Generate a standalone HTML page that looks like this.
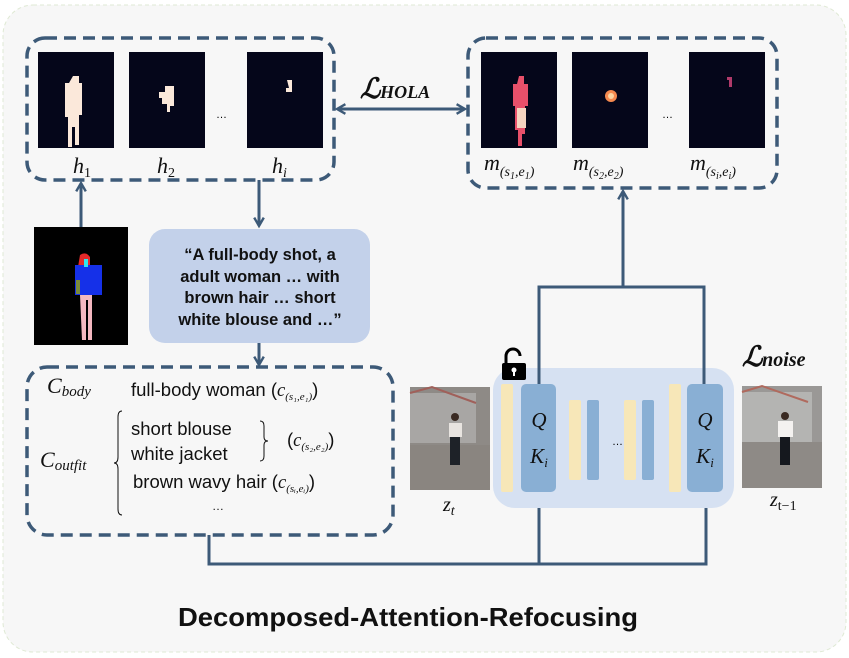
<!DOCTYPE html>
<html><head><meta charset="utf-8"><style>html,body{margin:0;padding:0;background:#fff}svg{display:block}</style></head>
<body>
<svg width="849" height="658" viewBox="0 0 849 658" xmlns="http://www.w3.org/2000/svg">
<defs>
<marker id="ah" viewBox="0 0 10 10" refX="8" refY="5" markerWidth="4" markerHeight="4" orient="auto-start-reverse"><path d="M1,1 L8,5 L1,9" fill="none" stroke="#3d5a78" stroke-width="2"/></marker>
</defs>
<rect x="3" y="5" width="843" height="647" rx="30" fill="#f7f7f7" stroke="#dfe9d4" stroke-dasharray="4 3"/>
<g fill="none" stroke="#3d5a78" stroke-width="3.5" stroke-dasharray="12 7">
<rect x="27" y="38" width="307" height="142" rx="18"/>
<rect x="468" y="38" width="309" height="150" rx="18"/>
<rect x="27" y="367" width="366" height="168" rx="20"/>
</g>
<g>
<rect x="38" y="52" width="76" height="96" fill="#05061a"/>
<path d="M73,76 h6 v7 h3 v32 h-3 v30 h-4 v-18 h-3 v20 h-4 v-30 h-3 v-34 h4z" fill="#fbe8da"/>
<rect x="129" y="52" width="76" height="96" fill="#05061a"/>
<path d="M165,86 h9 v20 h-4 v6 h-3 v-8 h-5 v-6 h-3 v-6 h6z" fill="#fbe8da"/>
<rect x="247" y="52" width="76" height="96" fill="#05061a"/>
<path d="M287,80 h5 v12 h-6 v-4 h3z" fill="#fbe8da"/>
<text x="216" y="118" font-family="Liberation Sans" font-size="11">…</text>
</g>
<g>
<rect x="481" y="52" width="76" height="96" fill="#05061a"/>
<path d="M519,76 h5 v8 h4 v22 h-3 v28 h-3 v12 h-4 v-16 h-3 v-24 h-2 v-22 h4z" fill="#e8506a"/>
<path d="M517,108 h9 v20 h-9z" fill="#f6d4c0"/>
<rect x="572" y="52" width="76" height="96" fill="#05061a"/>
<circle cx="611" cy="96" r="6" fill="#f5894f"/>
<circle cx="611" cy="96" r="3" fill="#fbd3a0"/>
<rect x="689" y="52" width="76" height="96" fill="#05061a"/>
<path d="M727,77 h5 v10 h-3 v-7 h-2z" fill="#b03a6a"/>
<text x="662" y="118" font-family="Liberation Sans" font-size="11">…</text>
</g>
<g font-family="Liberation Serif" font-style="italic" font-size="22" fill="#111">
<text x="73" y="173">h<tspan font-size="14" font-style="normal" dy="4">1</tspan></text>
<text x="157" y="173">h<tspan font-size="14" font-style="normal" dy="4">2</tspan></text>
<text x="272" y="173">h<tspan font-size="14" dy="4">i</tspan></text>
<text x="484" y="170">m<tspan font-size="14" dy="6">(s</tspan><tspan font-size="10" dy="3">1</tspan><tspan font-size="14" dy="-3">,e</tspan><tspan font-size="10" dy="3">1</tspan><tspan font-size="14" dy="-3">)</tspan></text>
<text x="573" y="170">m<tspan font-size="14" dy="6">(s</tspan><tspan font-size="10" dy="3">2</tspan><tspan font-size="14" dy="-3">,e</tspan><tspan font-size="10" dy="3">2</tspan><tspan font-size="14" dy="-3">)</tspan></text>
<text x="690" y="170">m<tspan font-size="14" dy="6">(s</tspan><tspan font-size="10" dy="3">i</tspan><tspan font-size="14" dy="-3">,e</tspan><tspan font-size="10" dy="3">i</tspan><tspan font-size="14" dy="-3">)</tspan></text>
</g>
<text x="360" y="98" font-family="Liberation Serif" font-style="italic" font-weight="bold" font-size="28" fill="#111">ℒ<tspan font-size="18">HOLA</tspan></text>
<g stroke="#3d5a78" stroke-width="3" fill="none">
<line x1="337" y1="109" x2="465" y2="109" marker-start="url(#ah)" marker-end="url(#ah)"/>
<line x1="81" y1="227" x2="81" y2="183" marker-end="url(#ah)"/>
<line x1="259" y1="180" x2="259" y2="226" marker-end="url(#ah)"/>
<line x1="259" y1="343" x2="259" y2="365" marker-end="url(#ah)"/>
<polyline points="209,535 209,564 706,564 706,494" marker-end="url(#ah)"/>
<line x1="539" y1="564" x2="539" y2="494" marker-end="url(#ah)"/>
</g>
<rect x="34" y="227" width="94" height="118" fill="#000"/>
<path d="M80,255 q6,-4 10,2 v10 h-12z" fill="#e52a2a"/>
<path d="M75,265 h27 v30 h-27z" fill="#1530e8"/>
<rect x="84" y="259" width="4" height="8" fill="#2fe6f0"/>
<path d="M80,295 h12 v45 h-4 v-40 h-2 v40 h-4z" fill="#f4b8c0"/>
<rect x="76" y="280" width="4" height="14" fill="#7a8a3a"/>
<rect x="149" y="229" width="221" height="114" rx="16" fill="#c3d1ea"/>
<g font-family="Liberation Sans" font-weight="bold" font-size="16.5" fill="#111" text-anchor="middle">
<text x="260" y="260">“A full-body shot, a</text>
<text x="260" y="282">adult woman … with</text>
<text x="260" y="303">brown hair … short</text>
<text x="260" y="325">white blouse and …”</text>
</g>
<g font-family="Liberation Sans" font-size="18.5" fill="#111">
<text x="131" y="396">full-body woman (<tspan font-family="Liberation Serif" font-style="italic">c</tspan><tspan font-family="Liberation Serif" font-style="italic" font-size="11" dy="4">(s₁,e₁)</tspan><tspan dy="-4">)</tspan></text>
<text x="131" y="435">short blouse</text>
<text x="131" y="460">white jacket</text>
<text x="287" y="446">(<tspan font-family="Liberation Serif" font-style="italic">c</tspan><tspan font-family="Liberation Serif" font-style="italic" font-size="11" dy="4">(s₂,e₂)</tspan><tspan dy="-4">)</tspan></text>
<text x="133" y="488">brown wavy hair (<tspan font-family="Liberation Serif" font-style="italic">c</tspan><tspan font-family="Liberation Serif" font-style="italic" font-size="11" dy="4">(sᵢ,eᵢ)</tspan><tspan dy="-4">)</tspan></text>
<text x="212" y="510" font-size="12">…</text>
</g>
<g font-family="Liberation Serif" font-style="italic" font-size="22" fill="#111">
<text x="47" y="393">C<tspan font-size="15" dy="3">body</tspan></text>
<text x="40" y="467">C<tspan font-size="15" dy="3">outfit</tspan></text>
</g>
<g fill="none" stroke="#111" stroke-width="1">
<path d="M122,411 q-4,0 -4,6 v40 q0,6 -4,6 q4,0 4,6 v40 q0,6 4,6"/>
<path d="M260,421 q4,0 4,5 v11 q0,4 4,4 q-4,0 -4,4 v11 q0,5 -4,5"/>
</g>
<rect x="493" y="368" width="241" height="140" rx="22" fill="#d6e1f2"/>
<g stroke="#3d5a78" stroke-width="3" fill="none">
<polyline points="539,384 539,287 704,287 704,384"/>
<line x1="623" y1="287" x2="623" y2="191" marker-end="url(#ah)"/>
</g>
<g fill="#f7e7b8">
<rect x="501" y="384" width="12" height="108" rx="2"/>
<rect x="569" y="400" width="12" height="80" rx="2"/>
<rect x="624" y="400" width="12" height="80" rx="2"/>
<rect x="669" y="384" width="12" height="108" rx="2"/>
</g>
<g fill="#89afd4">
<rect x="521" y="384" width="35" height="108" rx="5"/>
<rect x="587" y="400" width="12" height="80" rx="2"/>
<rect x="642" y="400" width="12" height="80" rx="2"/>
<rect x="687" y="384" width="36" height="108" rx="5"/>
</g>
<g font-family="Liberation Serif" font-style="italic" font-size="21" fill="#111" text-anchor="middle">
<text x="539" y="427">Q</text><text x="539" y="463">K<tspan font-size="13" dy="4">i</tspan></text>
<text x="705" y="427">Q</text><text x="705" y="463">K<tspan font-size="13" dy="4">i</tspan></text>
</g>
<text x="612" y="445" font-family="Liberation Sans" font-size="11">…</text>
<path d="M506,364 v-8 a7,7 0 0 1 14,0" fill="none" stroke="#000" stroke-width="3"/>
<rect x="502" y="363" width="24" height="17" rx="2" fill="#000"/>
<circle cx="514" cy="370" r="2.5" fill="#fff"/><rect x="513" y="371" width="2" height="5" fill="#fff"/>
<g>
<rect x="410" y="387" width="80" height="103" fill="#8e8a86"/>
<rect x="410" y="393" width="66" height="50" fill="#a8a6a4"/>
<path d="M410,393 l22,-6 l44,16" fill="none" stroke="#a0605a" stroke-width="2"/>
<rect x="410" y="445" width="80" height="45" fill="#8a8580"/>
<circle cx="455" cy="417" r="4" fill="#3a2a22"/>
<rect x="449" y="423" width="13" height="14" fill="#e8e4e0"/>
<rect x="450" y="437" width="10" height="28" fill="#1e2228"/>
<rect x="742" y="386" width="80" height="102" fill="#9a9896"/>
<rect x="742" y="392" width="70" height="50" fill="#b4b4b2"/>
<path d="M742,392 l20,-6 l46,16" fill="none" stroke="#b06a5e" stroke-width="2"/>
<rect x="742" y="442" width="80" height="46" fill="#8e8a86"/>
<circle cx="785" cy="416" r="4" fill="#3a2a22"/>
<rect x="778" y="421" width="15" height="16" fill="#f4f2f0"/>
<rect x="780" y="437" width="10" height="28" fill="#15181e"/>
</g>
<g font-family="Liberation Serif" font-style="italic" font-size="20" fill="#111">
<text x="443" y="511">z<tspan font-size="14" dy="4">t</tspan></text>
<text x="770" y="506">z<tspan font-size="14" font-style="normal" dy="4">t−1</tspan></text>
</g>
<text x="742" y="366" font-family="Liberation Serif" font-style="italic" font-weight="bold" font-size="28" fill="#111">ℒ<tspan font-size="20">noise</tspan></text>
<text x="178" y="626" font-family="Liberation Sans" font-weight="bold" font-size="26" fill="#111" textLength="460" lengthAdjust="spacingAndGlyphs">Decomposed-Attention-Refocusing</text>
</svg>
</body></html>
